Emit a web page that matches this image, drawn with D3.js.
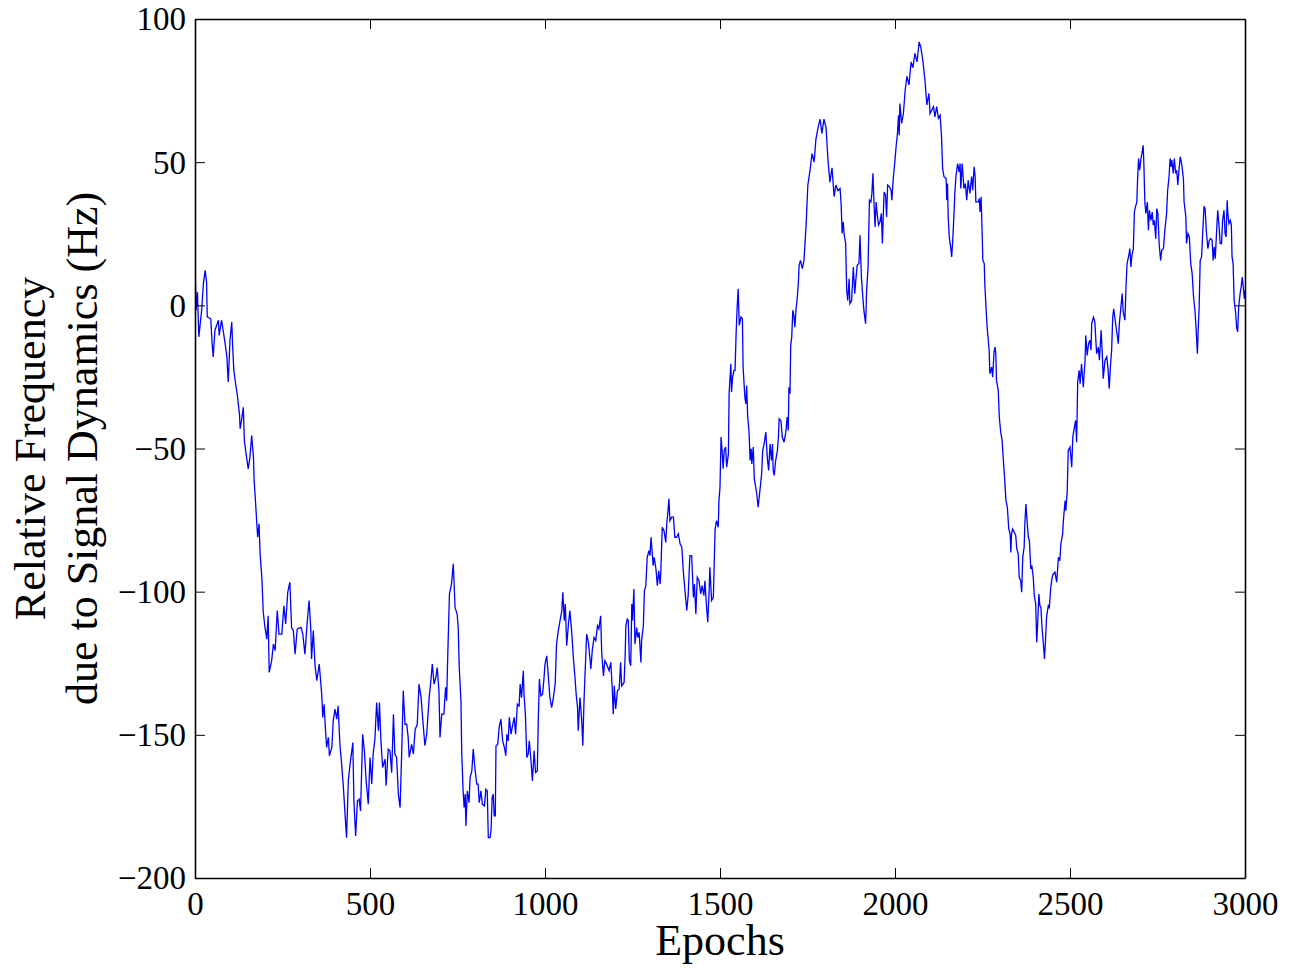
<!DOCTYPE html>
<html>
<head>
<meta charset="utf-8">
<script src="https://cdn.jsdelivr.net/npm/d3@7"></script>
<style>
  html, body { margin: 0; padding: 0; background: #fff; }
  svg { display: block; }
  text { font-family: "Liberation Serif", "Times New Roman", serif; fill: #000; }
</style>
</head>
<body>
<svg id="chart" width="1292" height="972"></svg>
<script>
// Relative frequency drift over training epochs
const epochs = [
  0,3,7,11,19,24,29,33,35,45,49,52,57,67,69,76,86,91,95,100,105,108,111,116,121,127,129,133,138,141,146,152,157,162,167,169,173,179,183,186,191,195,200,205,209,212,219,224,229,235,240,248,254,259,265,271,276,281,286,292,303,308,314,321,326,331,333,338,343,348,355,
  362,365,369,371,376,381,384,391,395,400,405,409,414,419,424,429,433,438,443,448,451,454,459,464,469,473,479,484,489,495,500,505,509,514,519,524,527,531,536,543,546,552,557,562,567,571,576,581,586,591,595,600,605,609,612,619,624,629,635,640,646,651,657,662,669,673,678,683,688,692,697,700,705,711,716,719,722,727,731,733,738,743,749,752,755,760,762,766,769,772,774,778,783,786,791,795,800,805,809,812,817,821,827,831,835,838,843,846,849,852,855,858,
  860,865,869,874,879,884,888,891,895,898,903,908,912,916,921,926,929,933,938,940,944,948,952,955,960,964,969,973,978,981,984,988,993,997,1000,1005,1009,1014,1019,1024,1029,1033,1038,1043,1048,1051,1055,1058,1062,1067,1071,1076,1081,1086,1089,1093,1095,1100,1105,1108,1111,1114,1119,1124,1129,1131,1135,1140,1145,1150,1154,1159,1162,1167,1171,1176,1183,1188,1192,1195,1198,1202,1207,1212,1216,1219,1226,1229,1231,1235,1238,1241,1245,1248,1250,1254,1257,1262,1265,1269,1274,1276,1281,1284,1288,1292,1297,1300,1303,1307,1309,1312,1317,1321,1325,1329,1331,1335,1340,1345,1348,1351,1354,1357,1362,1367,1371,1376,1381,1386,1391,1395,1400,1405,1409,1414,1419,1424,1427,1431,1435,1440,1445,1449,1454,1457,1462,1465,1469,1471,1476,1481,1486,1490,1495,1497,
  1500,1503,1506,1509,1512,1516,1519,1524,1526,1531,1533,1536,1540,1543,1546,1549,1552,1555,1560,1564,1566,1571,1574,1576,1579,1583,1586,1589,1591,1595,1598,1602,1605,1609,1614,1619,1622,1626,1631,1635,1639,1643,1647,1650,1652,1655,1659,1664,1667,1669,1674,1678,1683,1688,1692,1695,1697,1700,1702,1705,1708,1711,1714,1717,1721,1724,1726,1730,1735,1740,1746,1751,1757,1763,1769,1774,1780,1786,1791,1797,1803,1809,1814,1820,1826,1831,1837,1843,1846,1849,1852,1855,1859,1862,1865,1869,1871,1876,1881,1885,1888,1892,1897,1900,1904,1908,1911,1916,1919,1923,1927,1931,1934,1937,1940,1943,1946,1949,1953,1957,1961,1964,1967,1969,1973,1976,1979,1984,1989,1991,1995,
  2000,2003,2007,2010,2012,2014,2019,2024,2029,2034,2040,2046,2051,2057,2063,2069,2074,2080,2086,2091,2097,2100,2110,2114,2119,2124,2129,2133,2136,2140,2146,2148,2150,2152,2155,2159,2162,2165,2169,2171,2174,2179,2183,2186,2188,2192,2197,2201,2205,2209,2214,2219,2222,2226,2229,2231,2238,2241,2243,2246,2249,2251,2255,2257,2260,2262,2264,2269,2271,2276,2279,2283,2286,2288,2290,2295,2298,2302,2306,2309,2313,2317,2321,2325,2329,2331,2333,2336,2341,2345,2348,2352,2355,2359,2362,2365,2369,2371,2374,2378,2381,2384,2388,2391,2395,2398,2402,2405,2408,2411,2414,2417,2420,2424,2427,2430,2433,2438,2441,2445,2449,2452,2457,2462,2467,2471,2474,2479,2481,2486,2488,2492,2495,
  2500,2505,2508,2511,2516,2519,2522,2526,2529,2533,2538,2543,2545,2549,2553,2557,2560,2562,2567,2571,2576,2581,2584,2589,2592,2595,2600,2605,2609,2612,2616,2619,2622,2625,2629,2633,2638,2641,2645,2649,2652,2657,2660,2663,2666,2669,2671,2674,2677,2681,2684,2687,2691,2693,2696,2699,2703,2707,2709,2711,2714,2717,2721,2724,2727,2731,2735,2738,2741,2745,2748,2751,2755,2759,2762,2767,2771,2776,2779,2783,2786,2789,2791,2795,2798,2802,2805,2808,2811,2815,2819,2824,2826,2831,2833,2837,2841,2845,2849,2853,2857,2860,2864,2866,2869,2872,2876,2879,2883,2886,2890,2894,2898,2902,2906,2909,2912,2915,2919,2922,2926,2929,2933,2936,2940,2943,2946,2949,2951,2954,2958,2961,2963,2966,2969,2973,2976,2979,2982,2986,2989,2992,2995,2998,3000
];
const freqHz = [
  15,-1.7,4.6,-11,-1.7,7.6,12.2,8.2,-4,-4.7,-13.4,-18,-8.7,-5.2,-10.5,-5.2,-13.3,-18,-26.8,-12.2,-5.8,-15.7,-22.7,-27.4,-31.5,-37.9,-43.1,-40.2,-35.6,-47.2,-51.9,-57.1,-53,-45.5,-53,-61.2,-68.8,-81,-76.3,-86.8,-95,-107.2,-112.5,-116.6,-108.4,-128.2,-124.1,-118.3,-120.6,-106.6,-114.8,-114.8,-104.9,-111.3,-100.2,-96.7,-112.5,-113.6,-121.8,-113,-112.5,-114.8,-121.8,-110.1,-103.1,-113.6,-123.5,-113.6,-125.9,-131.1,-125.3,
  -135.8,-143.9,-139.3,-144.5,-154.4,-150.9,-157.3,-154.4,-145.1,-141,-144.5,-139.9,-153.3,-160.3,-168.4,-178.3,-185.9,-166.1,-160.3,-155.6,-152.7,-173.1,-185.3,-173.1,-172.5,-176.6,-149.8,-155.6,-166.1,-174.2,-157.9,-167.2,-156.7,-151.5,-138.7,-148.6,-138.7,-151.5,-161.4,-158.5,-167.8,-155,-155.6,-163.2,-142.8,-156.7,-157.9,-170.7,-175.4,-154.4,-134.6,-146.3,-146.3,-150.9,-157.9,-153.3,-156.7,-148.1,-146.3,-132.3,-137,-145.1,-153.8,-149.8,-137,-132.3,-125.3,-132.3,-130,-126.5,-134.6,-150.9,-142.8,-142.8,-133.4,-138.1,-123,-100.8,-98.5,-97,-90.3,-105.5,-107.8,-112.5,-126.5,-138.7,-155.6,-169.6,-175.4,-170.7,-181.8,-169.6,-173.7,-164.9,-162.6,-155,-162,-167.2,-167.2,-173.7,-169.6,-174.2,-174.8,-169,-169.6,-185.9,-185.9,-183,-171.9,-170.7,-178.3,-178.3,
  -153.8,-153.3,-147.4,-144.5,-152.1,-154.4,-157.3,-149.8,-152.1,-143.9,-149.8,-146.3,-143.9,-149.8,-139.3,-139.9,-132.3,-137,-127.6,-135.8,-142.8,-157.9,-156.7,-152.1,-159.1,-166.1,-155.6,-163.2,-162.6,-143.9,-130.5,-136.4,-135.8,-130.5,-125.3,-122.4,-128.8,-137,-140.5,-137,-132.3,-118.3,-113.6,-110.1,-106.6,-100.2,-110.1,-104.3,-118.9,-111.3,-106.6,-113.6,-123,-130.5,-135.8,-140.5,-148.6,-137,-145.1,-153.8,-140,-130,-114.8,-117.7,-124.1,-127,-120.6,-116,-117.1,-111.9,-113,-108.4,-121.2,-129.4,-124.1,-125.3,-127.6,-124.7,-133.4,-142.8,-132.9,-141,-134.6,-134,-124.7,-132.9,-131.7,-122.4,-111.9,-109.6,-110.1,-124.1,-125.9,-104.3,-110.1,-99.1,-118.3,-112.5,-116,-114.2,-124.7,-117.1,-111.9,-99.7,-97.9,-88,-85.7,-87.4,-81,-87.4,-90.9,-88,-92.1,-97.9,-92.7,-97.3,-92.7,-77.5,-78.7,-82.8,-76.3,-72.3,-67.6,-75.2,-74,-74,-81,-81,-79.8,-83.3,-84.5,-92.7,-99.7,-106.6,-101.4,-87.4,-87.4,-102,-97.3,-107.8,-95,-96.2,-100.8,-97.9,-101.4,-96.2,-106.1,-110.7,-99.7,-91.5,-103.1,-102,-78.1,-75.2,-77.5,-68.2,
  -63.5,-46,-50.7,-57.1,-50.7,-49.5,-56.5,-51.9,-30.9,-20.4,-30.3,-25.1,-22.7,-22.7,-9.9,-0.6,5.8,-7,-4.1,-4.7,-21.6,-32.1,-34.4,-28,-38.5,-44.3,-54.2,-50.1,-55.4,-49.5,-60.6,-63.5,-65.8,-70.5,-64.7,-58.8,-50.7,-48.4,-44.3,-53,-57.7,-48.4,-54.2,-48.4,-57.7,-59.4,-54.2,-50.7,-46,-39.6,-40.2,-46,-47.8,-44.3,-39,-43.7,-28.6,-30.9,-14,-11.1,-1.7,-3.5,-7.6,-1.7,2.9,8.1,14,15.7,12.8,15.7,28,42,47,53,50,58,62,65,60,65,62,50,43,48,38,42,40,40.8,35.6,25.1,29.1,24.5,21.6,5.2,1.7,9.3,0.6,1.7,13.4,4.1,8.7,14,14.6,24.5,9.9,2.9,-1.7,-6.4,5.2,13.4,36.7,36.1,39.1,46.1,35.6,27.4,36.1,32.1,28,29.1,32.1,21.6,33.2,39.6,38.5,30.9,42,41.4,40.2,36.7,44.3,
  50.7,55.3,60,66.4,59.4,70.5,63.5,67,75,80,77,85,83,88,85,92,90,85,78,70,74,67,69.4,65.8,69.4,65.3,66.4,58.8,47.8,44.9,44.3,36.7,42.5,30.9,23.9,20.4,16.9,22.7,33.2,39.1,44.9,49.5,46.6,49.5,40.8,49.5,40.8,42.5,36.7,43.7,39.1,45,40.2,48.4,45,36.1,36.1,37.3,32.6,37.9,25.1,15.7,14.6,6.4,-0.6,-5.2,-8.7,-15.7,-23.9,-21.6,-25.1,-16.3,-14.6,-16.9,-26.2,-29.7,-39,-44.3,-47.2,-53,-60,-68.2,-70.5,-78.1,-79.8,-86.3,-79.8,-78.1,-79.3,-80.4,-85.1,-86.8,-95,-96.2,-100.2,-88,-84.5,-76.3,-69.4,-76.3,-81,-82.2,-92.1,-90.9,-95,-101.4,-104.3,-117.7,-110.1,-100.8,-104.9,-105.5,-112.5,-118.3,-123.5,-117.1,-109,-104.9,-105.5,-98.5,-95,-93.8,-93.2,-96.7,-88,-89.2,-83.3,-79.8,-75.2,-68.2,-71.7,-65.3,-50.7,
  -49.5,-56.5,-46,-43.7,-40.2,-47.8,-26.8,-22.7,-27.4,-20.4,-28.6,-19.2,-10.5,-17.5,-13.4,-12.2,-15.7,-6.4,-4.1,-5.8,-16.9,-14.6,-19.2,-8.7,-16.3,-25.6,-19.2,-18,-22.7,-29.1,-20.4,-15.7,-4.1,-1.2,-5.2,-8.7,-13.4,-6.4,-1.2,4.1,-2.3,-5.2,6.4,14.6,16.3,18.1,19.8,13.4,17.5,19.8,32.6,34.4,36.1,43.7,51.3,47.2,51.3,54.2,55.9,49.5,35.6,32.1,36.1,26.2,33.2,29.7,32.6,28,29.7,23.3,33.8,32.1,21,15.7,19.2,19.8,26.2,32.1,40.2,44.9,51.3,48.4,50.7,46.1,51.3,46.1,47.2,42,46.6,51.9,49.5,44.3,36.1,30.9,21.6,25.1,23.9,14.6,11.1,2.9,-1.7,-7.6,-16.9,-9.3,-0.6,15.7,16.9,25.1,34.6,33.8,25.1,19.8,22.7,23.3,22.7,15.7,20.4,16.3,26.2,33.2,27.4,21.6,21.6,29.7,33.2,25.1,23.9,36.7,32.1,28.6,29.7,28,16.9,14.6,1.7,-2.3,-7.6,-9.3,-0.6,4.1,6.4,9.9,6.4,2.3,5.2
];
const xTicks = [0, 500, 1000, 1500, 2000, 2500, 3000];
const yTicks = [-200, -150, -100, -50, 0, 50, 100];
const xTitle = "Epochs";
const yTitleLines = ["Relative Frequency", "due to Signal Dynamics (Hz)"];

(function drawChart() {
  const svg = d3.select("#chart");
  const box = { left: 195, top: 19, right: 1245, bottom: 878 };

  const x = d3.scaleLinear().domain([0, 3000]).range([box.left, box.right]);
  const y = d3.scaleLinear().domain([-200, 100]).range([box.bottom, box.top]);

  const n = Math.min(epochs.length, freqHz.length);
  const series = d3.range(n).map(i => ({ e: epochs[i], v: freqHz[i] }));

  svg.append("clipPath").attr("id", "plotClip")
    .append("rect")
    .attr("x", box.left).attr("y", box.top)
    .attr("width", box.right - box.left).attr("height", box.bottom - box.top);

  const line = d3.line().x(d => x(d.e)).y(d => y(d.v));

  svg.append("path")
    .datum(series)
    .attr("clip-path", "url(#plotClip)")
    .attr("d", line)
    .attr("fill", "none")
    .attr("stroke", "#0000ff")
    .attr("stroke-width", 1.3);

  const fmt = d => d < 0 ? "\u2212" + Math.abs(d) : String(d);
  const tickLen = 10;

  // MATLAB-style box: ticks on all four sides, pointing inward
  const axBottom = svg.append("g").attr("transform", `translate(0,${box.bottom})`)
    .call(d3.axisBottom(x).tickValues(xTicks).tickFormat(fmt).tickSizeInner(-tickLen).tickSizeOuter(0).tickPadding(14));
  const axTop = svg.append("g").attr("transform", `translate(0,${box.top})`)
    .call(d3.axisTop(x).tickValues(xTicks).tickFormat("").tickSizeInner(-tickLen).tickSizeOuter(0));
  const axLeft = svg.append("g").attr("transform", `translate(${box.left},0)`)
    .call(d3.axisLeft(y).tickValues(yTicks).tickFormat(fmt).tickSizeInner(-tickLen).tickSizeOuter(0).tickPadding(9));
  const axRight = svg.append("g").attr("transform", `translate(${box.right},0)`)
    .call(d3.axisRight(y).tickValues(yTicks).tickFormat("").tickSizeInner(-tickLen).tickSizeOuter(0));

  [axBottom, axTop, axLeft, axRight].forEach(g => {
    g.select(".domain").attr("stroke", "#000").attr("stroke-width", 1.6);
    g.selectAll(".tick line").attr("stroke", "#000").attr("stroke-width", 1);
    g.selectAll(".tick text")
      .style("font-family", '"Liberation Serif", "Times New Roman", serif')
      .style("font-size", "33px").attr("fill", "#000");
  });
  axBottom.selectAll(".tick text").attr("dy", "0.71em");
  axLeft.selectAll(".tick text").attr("dy", "0.33em");

  // axis titles
  svg.append("text")
    .attr("x", (box.left + box.right) / 2)
    .attr("y", 955)
    .attr("text-anchor", "middle")
    .style("font-size", "44px")
    .text(xTitle);

  const yMid = (box.top + box.bottom) / 2;
  const yTitle = svg.append("text")
    .attr("transform", `translate(0,${yMid}) rotate(-90)`)
    .attr("text-anchor", "middle")
    .style("font-size", "44px");
  yTitle.append("tspan").attr("x", 0).attr("y", 45).text(yTitleLines[0]);
  yTitle.append("tspan").attr("x", 0).attr("y", 97).text(yTitleLines[1]);
})();
</script>
</body>
</html>
